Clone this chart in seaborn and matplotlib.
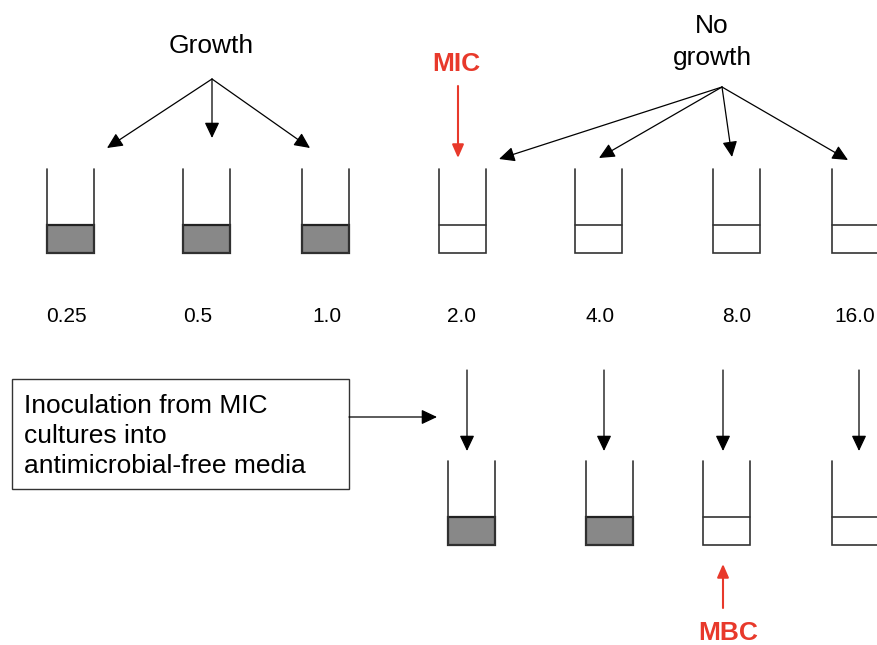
import matplotlib
matplotlib.use("Agg")
import matplotlib.pyplot as plt
import seaborn as sns
from matplotlib.patches import Rectangle, FancyArrowPatch

# ---- data ----
concentrations = ["0.25", "0.5", "1.0", "2.0", "4.0", "8.0", "16.0"]
top_growth = [True, True, True, False, False, False, False]
sub_conc = ["2.0", "4.0", "8.0", "16.0"]
sub_growth = [True, True, False, False]
growth_label = "Growth"
nogrowth_label = ["No", "growth"]
box_lines = ["Inoculation from MIC", "cultures into", "antimicrobial-free media"]
mic_label = "MIC"
mbc_label = "MBC"

# ---- layout (pixel coordinates) ----
W, H = 877, 645
top_left = [47, 183, 302, 439, 575, 713, 832]
label_x = [66, 198, 327, 462, 600, 737, 855]
sub_left = [448, 586, 703, 832]
sub_arrow_x = [467, 604, 723, 859]
TW = 47
top_y0, top_y1, top_lvl = 169, 253, 225
sub_y0, sub_y1, sub_lvl = 461, 545, 517
RED = "#e8392b"
DARK = "#222222"
FONT = ["Liberation Sans", "DejaVu Sans"]

sns.set_theme(style="white")
plt.rcParams["font.family"] = FONT
plt.rcParams["text.color"] = "black"

fig = plt.figure(figsize=(W / 100, H / 100), dpi=100)
ax = fig.add_axes([0, 0, 1, 1])
ax.set_xlim(0, W)
ax.set_ylim(H, 0)
ax.axis("off")
fig.patch.set_facecolor("white")


def tube(x, y0, y1, lvl, grown):
    if grown:
        ax.add_patch(Rectangle((x, lvl), TW, y1 - lvl, facecolor="#888888",
                               edgecolor=DARK, lw=1.6, zorder=2))
    else:
        ax.plot([x, x + TW], [lvl, lvl], color=DARK, lw=1.1, zorder=3)
    ax.plot([x, x, x + TW, x + TW], [y0, y1, y1, y0], color="#333333",
            lw=1.2, zorder=3, solid_joinstyle="miter")


def arrow(p0, p1, color="black", lw=0.9, hl=9.5, hw=4.5):
    a = FancyArrowPatch(p0, p1, arrowstyle=f"-|>,head_length={hl},head_width={hw}",
                        mutation_scale=1, color=color, lw=lw,
                        shrinkA=0, shrinkB=0, zorder=4)
    ax.add_patch(a)


for i, (c, g) in enumerate(zip(concentrations, top_growth)):
    tube(top_left[i], top_y0, top_y1, top_lvl, g)
    ax.text(label_x[i], 322, c, ha="center", va="baseline", fontsize=15,
            color="black")

for i, (c, g) in enumerate(zip(sub_conc, sub_growth)):
    tube(sub_left[i], sub_y0, sub_y1, sub_lvl, g)
    arrow((sub_arrow_x[i], 370), (sub_arrow_x[i], 451))

# Growth annotation
ax.text(211, 53, growth_label, ha="center", va="baseline", fontsize=19)
apex = (212, 79)
for tip in [(107, 148), (212, 138), (310, 148)]:
    arrow(apex, tip)

# No growth annotation
ax.text(712, 33, nogrowth_label[0], ha="center", va="baseline", fontsize=19)
ax.text(712, 65, nogrowth_label[1], ha="center", va="baseline", fontsize=19)
apex2 = (722, 87)
for tip in [(499, 159), (599, 158), (732, 157), (848, 160)]:
    arrow(apex2, tip)

# MIC
ax.text(456, 71, mic_label, ha="center", va="baseline", fontsize=19,
        fontweight="bold", color=RED)
arrow((458, 86), (458, 158), color=RED, lw=1.5, hl=8, hw=3.5)

# MBC
ax.text(728, 640, mbc_label, ha="center", va="baseline", fontsize=19,
        fontweight="bold", color=RED)
arrow((723, 608), (723, 564), color=RED, lw=1.5, hl=8, hw=3.5)

# Box
ax.add_patch(Rectangle((12, 379), 337, 110, facecolor="white",
                       edgecolor="#333333", lw=1.0, zorder=2))
for k, line in enumerate(box_lines):
    ax.text(24, 413 + 30 * k, line, ha="left", va="baseline", fontsize=19,
            zorder=3)
arrow((349, 417), (437, 417))

fig.savefig("out.png", dpi=100, facecolor="white")
